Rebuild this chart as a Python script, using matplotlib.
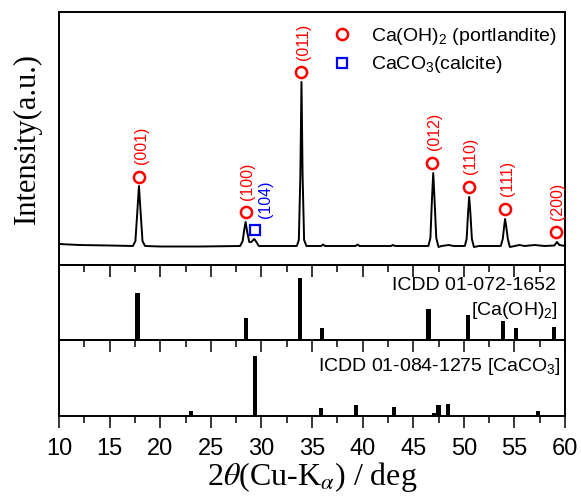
import matplotlib
matplotlib.use("Agg")
import matplotlib.pyplot as plt
from matplotlib.lines import Line2D

plt.rcParams['font.family'] = ['Liberation Sans', 'DejaVu Sans']
plt.rcParams['mathtext.fontset'] = 'custom'
plt.rcParams['mathtext.rm'] = 'Liberation Sans'
plt.rcParams['mathtext.it'] = 'Liberation Sans:italic'

# Measured XRD pattern (2theta, intensity a.u.)
two_theta = [10.0, 12.0, 15.0, 17.3, 17.55, 17.75, 17.9, 18.05, 18.25, 18.5, 20.0, 24.0,
             27.9, 28.15, 28.3, 28.44, 28.6, 28.8, 29.0, 29.3, 29.5, 29.75, 31.0,
             33.5, 33.7, 33.85, 33.96, 34.07, 34.22, 34.45, 35.9, 36.1, 36.3,
             39.3, 39.5, 39.7, 42.8, 43.0, 43.2, 46.5, 46.7, 46.85, 46.98, 47.11, 47.28,
             47.5, 47.8, 48.5, 49.0, 50.1, 50.28, 50.42, 50.53, 50.65, 50.8, 51.0, 51.5,
             53.65, 53.85, 53.98, 54.08, 54.2, 54.35, 54.55, 55.5, 56.0, 57.0, 58.0,
             58.95, 59.2, 59.45, 60.0]
intensity = [21, 20, 19.5, 19, 24, 55, 79, 55, 24, 19, 18.5, 18.5,
             19, 24, 35, 43, 33, 23, 23, 26, 23, 19, 19,
             19, 25, 90, 183, 90, 25, 19, 19, 20.5, 19,
             19, 20.5, 19, 19, 20, 19, 19, 27, 65, 92, 65, 27,
             18, 19, 20, 19, 19, 26, 52, 68, 52, 26, 18, 19,
             19, 26, 38, 46, 38, 26, 18, 20, 19, 20, 19,
             19.5, 23, 20, 19]

# Phase markers
ch_pos = [17.9, 28.44, 33.96, 46.9, 50.5, 54.1, 59.1]
ch_marker_y = [88, 53, 193, 102, 78, 56, 33]
ch_hkl = ['(001)', '(100)', '(011)', '(012)', '(110)', '(111)', '(200)']
cc_pos = [29.35]
cc_marker_y = [35]
cc_hkl = ['(104)']

# Reference patterns
icdd_ch_pos = [17.76, 28.5, 33.85, 35.97, 46.52, 50.43, 53.88, 55.17, 58.95]
icdd_ch_int = [46.7, 21.7, 61.7, 11.7, 30.7, 25.0, 19.0, 12.3, 12.7]
icdd_cc_pos = [23.02, 29.4, 31.47, 35.9, 39.35, 43.07, 47.08, 47.5, 48.46, 56.45, 57.3]
icdd_cc_int = [4.7, 60.0, 1.0, 7.7, 10.7, 8.7, 3.3, 10.7, 11.7, 1.3, 4.7]

fig = plt.figure(figsize=(5.81, 4.99), dpi=100)
gs = fig.add_gridspec(3, 1, height_ratios=[253, 75, 76], hspace=0,
                      left=59/581, right=565/581, top=1-12/499, bottom=83/499)
ax1 = fig.add_subplot(gs[0])
ax2 = fig.add_subplot(gs[1], sharex=ax1)
ax3 = fig.add_subplot(gs[2], sharex=ax1)

ax1.plot(two_theta, intensity, color='black', lw=1.4)
ax1.plot(ch_pos, ch_marker_y, 'o', ms=8, mfc='none', mec='red', mew=1.8, ls='none')
ax1.plot(cc_pos, cc_marker_y, 's', ms=7.5, mfc='none', mec='blue', mew=1.6, ls='none')
for x, y, t in zip(ch_pos, ch_marker_y, ch_hkl):
    ax1.annotate(t, (x, y), xytext=(1.5, 9), textcoords='offset points',
                 rotation=90, ha='center', va='bottom', color='red', fontsize=11.5)
for x, y, t in zip(cc_pos, cc_marker_y, cc_hkl):
    ax1.annotate(t, (x, y), xytext=(8, 8.5), textcoords='offset points',
                 rotation=90, ha='center', va='bottom', color='blue', fontsize=11.5)
ax1.set_ylim(0, 253)

handles = [Line2D([], [], marker='o', ls='none', ms=8, mfc='none', mec='red', mew=1.8),
           Line2D([], [], marker='s', ls='none', ms=7.5, mfc='none', mec='blue', mew=1.6)]
ax1.legend(handles, ['Ca(OH)$_2$ (portlandite)', 'CaCO$_3$(calcite)'],
           loc='upper left', bbox_to_anchor=(0.525, 0.977), frameon=False,
           fontsize=14, handlelength=1.0, handletextpad=1.0, labelspacing=0.4,
           borderaxespad=0)

ax2.bar(icdd_ch_pos, icdd_ch_int, width=0.42, color='black')
ax2.set_ylim(0, 75)
ax2.text(0.981, 0.72, 'ICDD 01-072-1652', transform=ax2.transAxes,
         ha='right', va='center', fontsize=14)
ax2.text(0.986, 0.39, '[Ca(OH)$_2$]', transform=ax2.transAxes,
         ha='right', va='center', fontsize=14)

ax3.bar(icdd_cc_pos, icdd_cc_int, width=0.42, color='black')
ax3.set_ylim(0, 76)
ax3.text(0.992, 0.645, 'ICDD 01-084-1275 [CaCO$_3$]', transform=ax3.transAxes,
         ha='right', va='center', fontsize=14)

for ax in (ax1, ax2, ax3):
    ax.patch.set_visible(False)
    ax.set_xlim(10, 60)
    ax.set_xticks(range(10, 61, 5))
    ax.set_xticks([x + 2.5 for x in range(10, 60, 5)], minor=True)
    ax.tick_params(axis='x', which='major', direction='out', length=8.6, width=1.1,
                   labelsize=17, pad=7.5)
    ax.tick_params(axis='x', which='minor', direction='out', length=5, width=1.1)
    ax.tick_params(axis='y', left=False, labelleft=False)
    for s in ax.spines.values():
        s.set_linewidth(1.4)
for ax in (ax1, ax2):
    ax.tick_params(axis='x', which='both', labelbottom=False)

ax1.set_ylabel('Intensity(a.u.)', fontsize=22, family='Liberation Serif')
ax1.yaxis.set_label_coords(-0.034, 0.5)
ax3.set_xlabel(r'2$\theta$(Cu-K$_\alpha$) / deg', fontsize=23, family='Liberation Serif',
               math_fontfamily='stix', labelpad=0)

fig.savefig('out.png', dpi=100)
